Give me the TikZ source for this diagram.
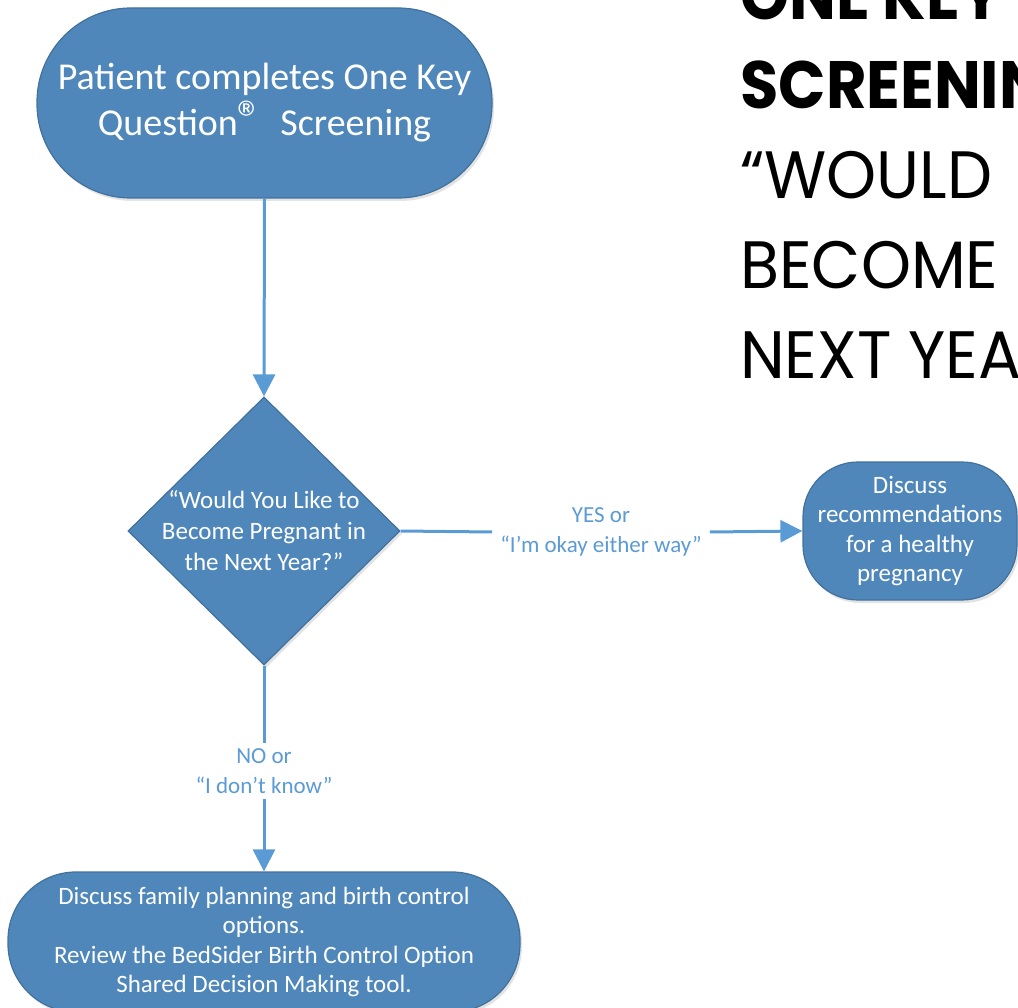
\documentclass[tikz,border=0pt]{standalone}
\usepackage{fontspec}
\setmainfont{Carlito}
\newfontfamily\titlefont[FakeStretch=0.95]{Poppins}
\newfontfamily\titleboldfont[FakeStretch=0.93]{Poppins}
\usetikzlibrary{shapes.geometric,arrows.meta,shadows}
\definecolor{boxblue}{HTML}{4F87BB}
\definecolor{boxedge}{HTML}{41719C}
\definecolor{linkblue}{HTML}{5B9BD5}
\begin{document}
\begin{tikzpicture}[x=1pt,y=-1pt,
  shade/.style={drop shadow={shadow xshift=2pt,shadow yshift=-3pt,opacity=0.18,fill=black!60}},
  box/.style={draw=boxedge, line width=1.2pt, fill=boxblue, text=white, align=center,
    inner sep=0pt, font=\fontsize{25}{29.5}\selectfont, shade},
  dia/.style={diamond, draw=boxedge, line width=1.2pt, fill=boxblue, inner sep=0pt, shade},
  qtext/.style={text=white, align=center, inner sep=0pt, font=\fontsize{25}{31}\selectfont},
  lbl/.style={text=linkblue, align=center, inner xsep=8pt, inner ysep=5pt, font=\fontsize{23}{30}\selectfont},
  link/.style={draw=linkblue, line width=3pt},
  arr/.style={link, -{Triangle[length=22pt,width=22pt]}},
  ttl/.style={anchor=base west, inner sep=0pt, font=\titlefont\fontsize{67}{80}\selectfont},
  ttlb/.style={anchor=base west, inner sep=0pt, font=\titleboldfont\bfseries\fontsize{67}{80}\selectfont}]
\useasboundingbox (0,0) rectangle (1018,1008);
\clip (0,0) rectangle (1018,1008);

% title
\node[ttlb] (t1) at (740,20) {ONE KEY};
\node[ttlb] (t2) at (740,109) {SCREENING};
\node[ttl] (t3) at (740,199) {“WOULD};
\node[ttl] (t4) at (740,289) {BECOME};
\node[ttl] (t5) at (740,379) {NEXT YEAR};

% nodes
\node[box, minimum width=455pt, minimum height=190pt, rounded corners=94pt,
      font=\fontsize{38}{46}\selectfont] (start) at (264.5,103)
  {Patient completes One Key\\Question{\fontsize{50}{50}\selectfont ®}\ \ Screening};
\node[dia, minimum width=272pt, minimum height=268pt] (q) at (264,531) {};
\node[qtext] (qt) at (q.center) {“Would You Like to\\Become Pregnant in\\the Next Year?”};
\node[box, minimum width=214pt, minimum height=138pt, rounded corners=55pt] (rec) at (910,531)
  {Discuss\\recommendations\\for a healthy\\pregnancy};
\node[box, minimum width=512pt, minimum height=140pt, rounded corners=68pt] (fam) at (264,942)
  {Discuss family planning and birth control\\options.\\Review the BedSider Birth Control Option\\Shared Decision Making tool.};

% labels
\node[lbl] (yes) at (601,532) {YES or\\“I’m okay either way”};
\node[lbl] (no) at (264,771) {NO or\\“I don’t know”};

% connectors
\draw[arr] (start.south) -- (q.north);
\draw[link] (q.east) -- (yes.west);
\draw[arr] (yes.east) -- (rec.west);
\draw[link] (q.south) -- (no.north);
\draw[arr] (no.south) -- (fam.north);
\end{tikzpicture}
\end{document}
